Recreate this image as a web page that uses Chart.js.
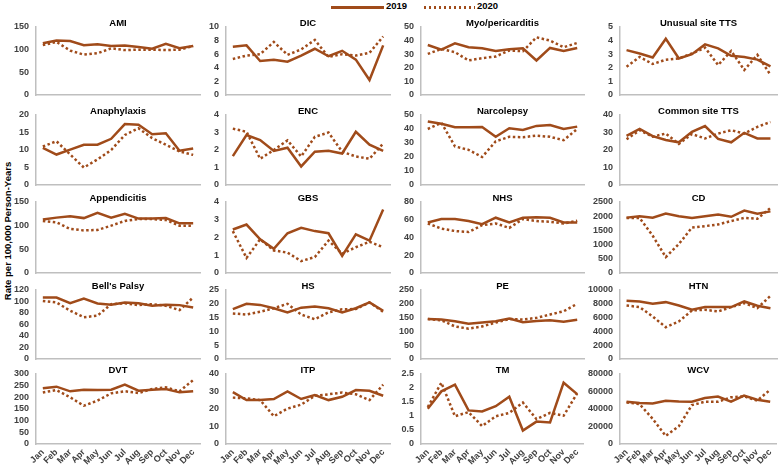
<!DOCTYPE html>
<html>
<head>
<meta charset="utf-8">
<script src="https://cdn.jsdelivr.net/npm/chart.js@4.4.1/dist/chart.umd.min.js"></script>
<style>
  html, body { margin: 0; padding: 0; background: #fff; }
  body { width: 778px; height: 470px; position: relative; overflow: hidden; font-family: "Liberation Sans", Arial, sans-serif; }
  canvas.panel { position: absolute; }
  .leg { position: absolute; font-weight: bold; font-size: 9.5px; color: #000; line-height: 12px; }
  .swatch { position: absolute; height: 2.5px; }
  #ytitle { position: absolute; left: 7px; top: 231px; transform: translate(-50%, -50%) rotate(-90deg); white-space: nowrap; font-weight: bold; font-size: 9.5px; color: #000; }
</style>
</head>
<body>
<div class="swatch" style="left:331px; top:6px; width:53px; background:#A04B1A;"></div>
<div class="leg" style="left:386px; top:0px;">2019</div>
<div class="swatch" style="left:424px; top:6px; width:51px; background:repeating-linear-gradient(to right, #A04B1A 0 2.5px, transparent 2.5px 5px);"></div>
<div class="leg" style="left:477px; top:0px;">2020</div>
<div id="ytitle">Rate per 100,000 Person-Years</div>
<script>
const months = ['Jan', 'Feb', 'Mar', 'Apr', 'May', 'Jun', 'Jul', 'Aug', 'Sep', 'Oct', 'Nov', 'Dec'];

const AMI_2019 = [114, 120, 119, 110, 112, 108, 109, 106, 102, 113, 103, 108];
const AMI_2020 = [110, 117, 98, 89, 92, 103, 99, 100, 100, 99, 100, 108];
const DIC_2019 = [7.1, 7.3, 5.0, 5.2, 4.9, 5.8, 6.8, 5.7, 6.5, 5.2, 2.2, 7.3];
const DIC_2020 = [5.3, 5.8, 6.0, 7.8, 5.9, 6.7, 8.1, 5.6, 6.0, 5.8, 6.2, 8.6];
const MYO_2019 = [36.8, 33.4, 38.0, 35.1, 34.4, 32.4, 33.7, 34.4, 25.4, 34.6, 32.4, 34.6];
const MYO_2020 = [30.2, 33.9, 31.5, 25.4, 27.1, 28.3, 32.7, 32.2, 42.4, 40.0, 35.1, 38.3];
const UTTS_2019 = [3.3, 3.05, 2.76, 4.13, 2.69, 3.0, 3.72, 3.43, 2.88, 2.8, 2.6, 2.1];
const UTTS_2020 = [2.08, 2.8, 2.28, 2.59, 2.69, 3.05, 3.48, 2.2, 3.24, 1.84, 2.95, 1.48];

const ANA_2019 = [10.6, 8.7, 10.1, 11.5, 11.5, 13.2, 17.4, 17.2, 14.5, 14.8, 9.8, 10.4];
const ANA_2020 = [11.0, 12.5, 8.7, 5.0, 7.3, 10.0, 14.3, 16.2, 13.4, 11.5, 9.6, 8.6];
const ENC_2019 = [1.65, 2.85, 2.57, 1.95, 2.13, 1.06, 1.9, 1.95, 1.8, 3.04, 2.3, 1.95];
const ENC_2020 = [3.22, 3.04, 1.5, 2.0, 2.55, 1.63, 2.75, 3.0, 1.9, 1.63, 1.5, 2.37];
const NARC_2019 = [45.4, 43.7, 41.2, 41.2, 41.5, 34.4, 40.5, 39.3, 42.2, 42.9, 40.0, 41.7];
const NARC_2020 = [40.0, 44.4, 27.6, 25.1, 20.0, 31.2, 34.4, 34.1, 35.3, 34.4, 32.0, 40.0];
const CTTS_2019 = [28.1, 32.1, 27.9, 25.7, 24.4, 30.4, 33.7, 26.3, 24.4, 29.8, 26.6, 26.6];
const CTTS_2020 = [26.1, 31.3, 27.6, 29.4, 23.5, 29.1, 26.6, 29.4, 31.3, 29.4, 33.2, 36.0];

const APP_2019 = [113, 117, 120, 116, 127, 117, 125, 115, 115, 116, 105, 105];
const APP_2020 = [110, 107, 93, 90, 91, 100, 110, 114, 114, 112, 100, 100];
const GBS_2019 = [2.45, 2.73, 1.9, 1.36, 2.24, 2.55, 2.36, 2.24, 0.96, 2.18, 1.82, 3.58];
const GBS_2020 = [2.36, 0.85, 1.9, 1.27, 1.15, 0.67, 0.9, 1.82, 1.09, 1.45, 1.76, 1.45];
const NHS_2019 = [57, 60.8, 60.8, 58.5, 55, 62.3, 57, 62.3, 62.7, 62.3, 57, 57];
const NHS_2020 = [55.8, 50, 47.3, 46.2, 53.8, 55.8, 50.8, 60.8, 58.5, 57.7, 55.8, 58.8];
const CD_2019 = [1950, 2000, 1950, 2090, 2000, 1940, 2000, 2060, 1980, 2200, 2090, 2170];
const CD_2020 = [1940, 1940, 1310, 560, 1020, 1600, 1650, 1710, 1830, 1940, 1910, 2290];

const BP_2019 = [106.9, 106.9, 97, 105, 96.6, 94.3, 98.3, 97, 92.6, 94.3, 93.7, 89.7];
const BP_2020 = [101, 98.3, 84, 72.6, 75.4, 95.4, 97, 93.7, 95.4, 92.6, 85, 107];
const HS_2019 = [18.1, 20, 19.6, 18.4, 16.9, 18.6, 19, 18.4, 16.9, 18.4, 20.5, 17.5];
const HS_2020 = [16.5, 16.1, 17.1, 18.4, 20, 16.1, 14.4, 16.9, 18, 18.1, 20.5, 17.1];
const PE_2019 = [145, 143, 137, 128, 132, 137, 147, 133, 138, 140, 135, 142];
const PE_2020 = [145, 140, 118, 110, 118, 132, 145, 143, 149, 161, 173, 200];
const HTN_2019 = [8440, 8340, 8000, 8240, 7760, 7130, 7520, 7520, 7520, 8340, 7710, 7370];
const HTN_2020 = [7760, 7520, 6160, 4610, 5440, 7030, 7130, 6890, 7520, 8100, 7370, 9160];

const DVT_2019 = [238.6, 245.7, 225.7, 232.9, 231.4, 232.9, 254.3, 228.6, 232.9, 235.7, 221.4, 225.7];
const DVT_2020 = [221, 231, 200, 164, 186, 217, 226, 218.6, 235.7, 242.9, 225.7, 274];
const ITP_2019 = [29.6, 25.1, 25.1, 25.7, 30, 25.7, 28, 25.1, 27, 30.8, 30.4, 27.6];
const ITP_2020 = [26.5, 26.1, 25.1, 15.9, 20.2, 22.5, 27.5, 28.4, 29.4, 28.4, 25.1, 33.9];
const TM_2019 = [1.26, 1.88, 2.12, 1.2, 1.16, 1.35, 1.69, 0.48, 0.8, 0.77, 2.19, 1.78];
const TM_2020 = [1.32, 2.19, 0.99, 1.14, 0.64, 0.99, 1.11, 1.48, 0.89, 1.11, 1.01, 1.81];
const WCV_2019 = [48300, 46740, 46350, 49470, 48690, 48300, 52600, 54150, 48300, 55300, 50640, 48300];
const WCV_2020 = [47500, 45600, 28800, 9300, 20200, 44400, 48300, 48300, 53400, 54500, 49500, 62000];

// panel list in reading order (4 per row), with each panel's y axis range
const panels = [
    { name: 'AMI', a: AMI_2019, b: AMI_2020, max: 150, step: 50 },
    { name: 'DIC', a: DIC_2019, b: DIC_2020, max: 10, step: 2 },
    { name: 'Myo/pericarditis', a: MYO_2019, b: MYO_2020, max: 50, step: 10 },
    { name: 'Unusual site TTS', a: UTTS_2019, b: UTTS_2020, max: 5, step: 1 },
    { name: 'Anaphylaxis', a: ANA_2019, b: ANA_2020, max: 20, step: 5 },
    { name: 'ENC', a: ENC_2019, b: ENC_2020, max: 4, step: 1 },
    { name: 'Narcolepsy', a: NARC_2019, b: NARC_2020, max: 50, step: 10 },
    { name: 'Common site TTS', a: CTTS_2019, b: CTTS_2020, max: 40, step: 10 },
    { name: 'Appendicitis', a: APP_2019, b: APP_2020, max: 150, step: 50 },
    { name: 'GBS', a: GBS_2019, b: GBS_2020, max: 4, step: 1 },
    { name: 'NHS', a: NHS_2019, b: NHS_2020, max: 80, step: 20 },
    { name: 'CD', a: CD_2019, b: CD_2020, max: 2500, step: 500 },
    { name: "Bell's Palsy", a: BP_2019, b: BP_2020, max: 120, step: 20 },
    { name: 'HS', a: HS_2019, b: HS_2020, max: 25, step: 5 },
    { name: 'PE', a: PE_2019, b: PE_2020, max: 250, step: 50 },
    { name: 'HTN', a: HTN_2019, b: HTN_2020, max: 10000, step: 2000 },
    { name: 'DVT', a: DVT_2019, b: DVT_2020, max: 300, step: 50 },
    { name: 'ITP', a: ITP_2019, b: ITP_2020, max: 40, step: 10 },
    { name: 'TM', a: TM_2019, b: TM_2020, max: 2.5, step: 0.5 },
    { name: 'WCV', a: WCV_2019, b: WCV_2020, max: 80000, step: 20000 }
];

const brown = '#A04B1A';
const axisGrey = '#BFBFBF';
const colLeft = [36, 226, 421, 620];
const colWidth = [164, 164, 163, 157];
const rowTop = [27, 115, 202, 290, 374];
const rowBottom = [95, 185, 273, 359, 444];
// y tick labels ask for (half label + tick padding) room below the plot, so PB must cover it
const YW = 32, PT = 14, PR = 4, PB = 14, XH = 28;

// draws the panel name just above the plot area
const panelTitle = {
    id: 'panelTitle',
    afterDatasetsDraw(chart, args, opts) {
        const { ctx, chartArea } = chart;
        ctx.save();
        ctx.font = 'bold 9.5px "Liberation Sans", Arial, sans-serif';
        ctx.fillStyle = '#000';
        ctx.textAlign = 'center';
        ctx.textBaseline = 'middle';
        ctx.fillText(opts.text, (chartArea.left + chartArea.right) / 2, chartArea.top - 4);
        ctx.restore();
    }
};

panels.forEach(function (p, i) {
    const r = Math.floor(i / 4), c = i % 4;
    const lastRow = r === 4;
    const w = YW + colWidth[c] + PR;
    const h = PT + (rowBottom[r] - rowTop[r]) + PB + (lastRow ? XH : 0);

    const cv = document.createElement('canvas');
    cv.className = 'panel';
    cv.width = w;
    cv.height = h;
    cv.style.width = w + 'px';
    cv.style.height = h + 'px';
    cv.style.left = (colLeft[c] - YW) + 'px';
    cv.style.top = (rowTop[r] - PT) + 'px';
    document.body.appendChild(cv);

    new Chart(cv, {
        type: 'line',
        data: {
            labels: months,
            datasets: [{
                label: '2019',
                data: p.a,
                borderColor: brown,
                borderWidth: 2.5,
                pointRadius: 0,
                tension: 0
            }, {
                label: '2020',
                data: p.b,
                borderColor: brown,
                borderWidth: 2.5,
                borderDash: [2.5, 2.5],
                pointRadius: 0,
                tension: 0
            }]
        },
        options: {
            responsive: false,
            animation: false,
            devicePixelRatio: 1,
            layout: { padding: { top: PT, right: PR, bottom: PB, left: 0 } },
            plugins: {
                legend: { display: false },
                tooltip: { enabled: false },
                panelTitle: { text: p.name }
            },
            scales: {
                x: {
                    offset: true,
                    grid: { display: false, drawTicks: false },
                    border: { display: true, color: axisGrey, width: 1.5 },
                    ticks: {
                        display: lastRow,
                        autoSkip: false,
                        maxRotation: 45,
                        minRotation: 45,
                        padding: 3,
                        color: '#404040',
                        font: { family: '"Liberation Sans", Arial, sans-serif', size: 9, weight: 'bold' }
                    },
                    afterFit: function (s) { s.height = lastRow ? XH : 0; }
                },
                y: {
                    min: 0,
                    max: p.max,
                    grid: { display: false, drawTicks: false },
                    border: { display: true, color: axisGrey, width: 1.5 },
                    ticks: {
                        stepSize: p.step,
                        autoSkip: false,
                        padding: 7,
                        color: '#404040',
                        font: { family: '"Liberation Sans", Arial, sans-serif', size: 9, weight: 'bold' },
                        callback: function (v) { return String(v); }
                    },
                    afterFit: function (s) { s.width = YW; }
                }
            }
        },
        plugins: [panelTitle]
    });
});
</script>
</body>
</html>
